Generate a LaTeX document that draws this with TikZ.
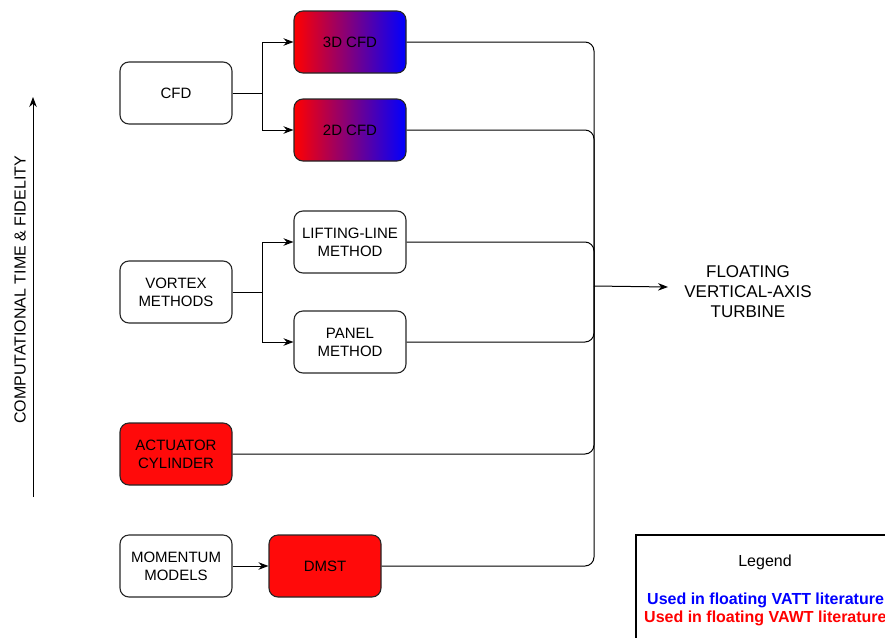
\documentclass[tikz,border=0pt]{standalone}
\usepackage{fontspec}
\setmainfont{Liberation Sans}
\usetikzlibrary{arrows.meta}
\begin{document}
\begin{tikzpicture}[x=1pt,y=-1pt,
  box/.style={draw=black!85,line width=1.1pt,rounded corners=9pt,minimum width=112pt,minimum height=62pt,align=center,font=\fontsize{15}{18}\selectfont,inner sep=0pt},
  grad/.style={box,left color=red,right color=blue},
  redbox/.style={box,fill={rgb,255:red,255;green,10;blue,10}},
  arr/.style={line width=1pt,-{Stealth[length=10pt,width=7.5pt]}},
  con/.style={line width=1pt,rounded corners=9pt}]
\useasboundingbox (0,0) rectangle (885,637);
\begin{scope}
\clip (0,0) rectangle (885,637);
% axis
\coordinate (ab) at (33,497);
\coordinate (at) at (33,97);
\draw[arr] (ab) -- (at);
\node[rotate=90,font=\fontsize{16}{19}\selectfont] (axl) at (20,290) {COMPUTATIONAL TIME \& FIDELITY};
% nodes
\node[box] (cfd) at (176,93) {CFD};
\node[grad] (c3) at (350,42) {3D CFD};
\node[grad] (c2) at (350,130) {2D CFD};
\node[box] (vm) at (176,292) {VORTEX\\METHODS};
\node[box] (ll) at (350,242) {LIFTING-LINE\\METHOD};
\node[box] (pm) at (350,342) {PANEL\\METHOD};
\node[redbox] (ac) at (176,454) {ACTUATOR\\CYLINDER};
\node[box] (mm) at (176,566) {MOMENTUM\\MODELS};
\node[redbox] (dm) at (325,566) {DMST};
\node[align=center,font=\fontsize{17}{20}\selectfont,inner sep=0pt] (ft) at (748,292) {FLOATING\\VERTICAL-AXIS\\TURBINE};
% connectors
\draw[arr] (cfd.east) -- ++(30,0) |- (c3.west);
\draw[arr] (cfd.east) -- ++(30,0) |- (c2.west);
\draw[arr] (vm.east) -- ++(30,0) |- (ll.west);
\draw[arr] (vm.east) -- ++(30,0) |- (pm.west);
\draw[arr] (mm.east) -- (dm.west);
\coordinate (m) at (594,286);
\coordinate (ftin) at (668,287);
\draw[con] (c3.east) -| (m);
\draw[con] (c2.east) -| (m);
\draw[con] (ll.east) -| (m);
\draw[con] (pm.east) -| (m);
\draw[con] (ac.east) -| (m);
\draw[con] (dm.east) -| (m);
\draw[arr] (m) -- (ftin);
% legend
\draw[line width=1.1pt] (636,700) -- (636,535) -- (900,535);
\node[font=\fontsize{16}{19}\selectfont] (lg) at (765,562) {Legend};
\node[anchor=west,inner sep=0pt,font=\bfseries\fontsize{16}{19}\selectfont,text={rgb,255:red,0;green,0;blue,255}] (l1) at (647,600) {Used in floating VATT literature};
\node[anchor=west,inner sep=0pt,font=\bfseries\fontsize{16}{19}\selectfont,text={rgb,255:red,255;green,0;blue,0}] (l2) at (644,618) {Used in floating VAWT literature};
\end{scope}
\end{tikzpicture}
\end{document}
